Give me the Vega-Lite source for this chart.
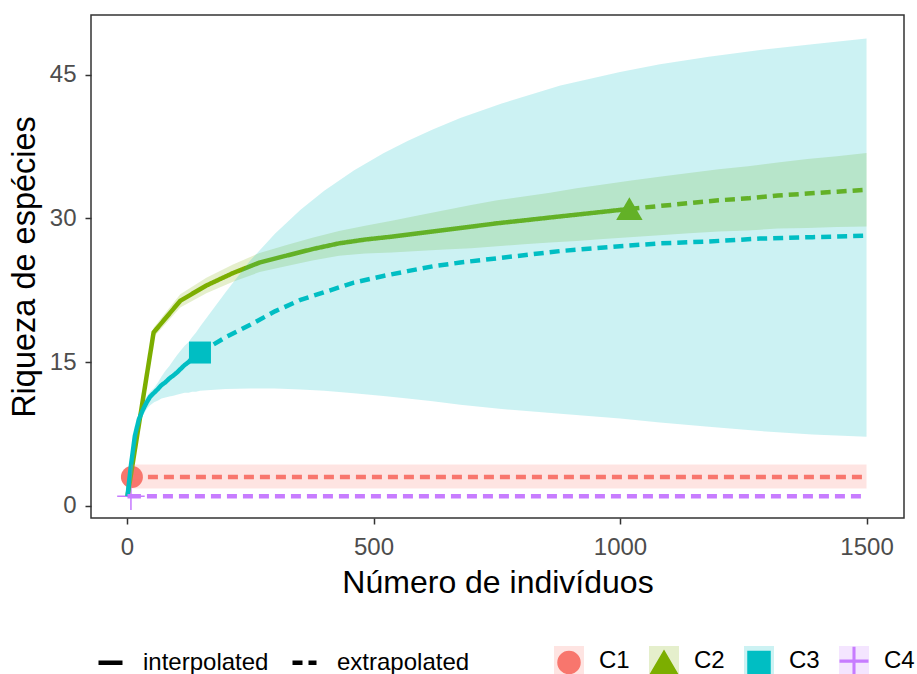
{
  "$schema": "https://vega.github.io/schema/vega-lite/v6.json",
  "width": 813,
  "height": 503,
  "autosize": {"type": "none"},
  "padding": {"left": 91, "top": 15, "right": 13, "bottom": 156},
  "background": "white",
  "config": {
    "font": "Liberation Sans",
    "view": {"stroke": "#333333", "strokeWidth": 1.5},
    "axis": {"grid": false}
  },
  "datasets": {
    "curves": [
      {"site": "C1", "m": 8, "qD": 2.8, "lo": 1.8, "hi": 4.3, "method": "interpolated"},
      {"site": "C1", "m": 10, "qD": 3, "lo": 1.8, "hi": 4.3, "method": "interpolated"},
      {"site": "C1", "m": 10, "qD": 3, "lo": 1.8, "hi": 4.3, "method": "extrapolated"},
      {"site": "C1", "m": 500, "qD": 3, "lo": 1.8, "hi": 4.3, "method": "extrapolated"},
      {"site": "C1", "m": 1000, "qD": 3, "lo": 1.8, "hi": 4.3, "method": "extrapolated"},
      {"site": "C1", "m": 1500, "qD": 3, "lo": 1.8, "hi": 4.3, "method": "extrapolated"},

      {"site": "C2", "m": 1, "qD": 1, "lo": 1, "hi": 1, "method": "interpolated"},
      {"site": "C2", "m": 54, "qD": 18.1, "lo": 17.6, "hi": 18.6, "method": "interpolated"},
      {"site": "C2", "m": 108, "qD": 21.4, "lo": 20.7, "hi": 22.1, "method": "interpolated"},
      {"site": "C2", "m": 161, "qD": 23.0, "lo": 22.2, "hi": 23.8, "method": "interpolated"},
      {"site": "C2", "m": 215, "qD": 24.3, "lo": 23.4, "hi": 25.2, "method": "interpolated"},
      {"site": "C2", "m": 269, "qD": 25.4, "lo": 24.4, "hi": 26.4, "method": "interpolated"},
      {"site": "C2", "m": 322, "qD": 26.1, "lo": 25.0, "hi": 27.2, "method": "interpolated"},
      {"site": "C2", "m": 376, "qD": 26.8, "lo": 25.6, "hi": 28.0, "method": "interpolated"},
      {"site": "C2", "m": 430, "qD": 27.4, "lo": 26.1, "hi": 28.7, "method": "interpolated"},
      {"site": "C2", "m": 483, "qD": 27.8, "lo": 26.35, "hi": 29.25, "method": "interpolated"},
      {"site": "C2", "m": 537, "qD": 28.1, "lo": 26.45, "hi": 29.75, "method": "interpolated"},
      {"site": "C2", "m": 590, "qD": 28.45, "lo": 26.6, "hi": 30.3, "method": "interpolated"},
      {"site": "C2", "m": 644, "qD": 28.8, "lo": 26.75, "hi": 30.85, "method": "interpolated"},
      {"site": "C2", "m": 698, "qD": 29.15, "lo": 26.9, "hi": 31.4, "method": "interpolated"},
      {"site": "C2", "m": 751, "qD": 29.5, "lo": 27.1, "hi": 31.9, "method": "interpolated"},
      {"site": "C2", "m": 805, "qD": 29.8, "lo": 27.3, "hi": 32.3, "method": "interpolated"},
      {"site": "C2", "m": 858, "qD": 30.1, "lo": 27.5, "hi": 32.7, "method": "interpolated"},
      {"site": "C2", "m": 912, "qD": 30.4, "lo": 27.65, "hi": 33.15, "method": "interpolated"},
      {"site": "C2", "m": 966, "qD": 30.7, "lo": 27.85, "hi": 33.55, "method": "interpolated"},
      {"site": "C2", "m": 1019, "qD": 31.0, "lo": 28.05, "hi": 33.95, "method": "interpolated"},
      {"site": "C2", "m": 1019, "qD": 31.0, "lo": 28.05, "hi": 33.95, "method": "extrapolated"},
      {"site": "C2", "m": 1080, "qD": 31.3, "lo": 28.25, "hi": 34.35, "method": "extrapolated"},
      {"site": "C2", "m": 1140, "qD": 31.6, "lo": 28.45, "hi": 34.75, "method": "extrapolated"},
      {"site": "C2", "m": 1200, "qD": 31.9, "lo": 28.65, "hi": 35.15, "method": "extrapolated"},
      {"site": "C2", "m": 1260, "qD": 32.1, "lo": 28.75, "hi": 35.45, "method": "extrapolated"},
      {"site": "C2", "m": 1320, "qD": 32.4, "lo": 28.95, "hi": 35.85, "method": "extrapolated"},
      {"site": "C2", "m": 1380, "qD": 32.6, "lo": 29.0, "hi": 36.2, "method": "extrapolated"},
      {"site": "C2", "m": 1440, "qD": 32.8, "lo": 29.1, "hi": 36.5, "method": "extrapolated"},
      {"site": "C2", "m": 1500, "qD": 33.0, "lo": 29.15, "hi": 36.85, "method": "extrapolated"},

      {"site": "C3", "m": 1, "qD": 1, "lo": 1, "hi": 1, "method": "interpolated"},
      {"site": "C3", "m": 8, "qD": 4.2, "lo": 3.9, "hi": 4.5, "method": "interpolated"},
      {"site": "C3", "m": 16, "qD": 7.3, "lo": 6.8, "hi": 7.8, "method": "interpolated"},
      {"site": "C3", "m": 24, "qD": 9.0, "lo": 8.4, "hi": 9.6, "method": "interpolated"},
      {"site": "C3", "m": 32, "qD": 10.0, "lo": 9.4, "hi": 10.6, "method": "interpolated"},
      {"site": "C3", "m": 40, "qD": 10.8, "lo": 10.1, "hi": 11.4, "method": "interpolated"},
      {"site": "C3", "m": 47, "qD": 11.4, "lo": 10.5, "hi": 11.9, "method": "interpolated"},
      {"site": "C3", "m": 55, "qD": 11.8, "lo": 10.8, "hi": 12.3, "method": "interpolated"},
      {"site": "C3", "m": 63, "qD": 12.2, "lo": 11.0, "hi": 12.9, "method": "interpolated"},
      {"site": "C3", "m": 70, "qD": 12.6, "lo": 11.2, "hi": 13.5, "method": "interpolated"},
      {"site": "C3", "m": 78, "qD": 12.9, "lo": 11.3, "hi": 14.1, "method": "interpolated"},
      {"site": "C3", "m": 86, "qD": 13.3, "lo": 11.4, "hi": 14.6, "method": "interpolated"},
      {"site": "C3", "m": 94, "qD": 13.6, "lo": 11.5, "hi": 15.2, "method": "interpolated"},
      {"site": "C3", "m": 101, "qD": 13.9, "lo": 11.6, "hi": 15.7, "method": "interpolated"},
      {"site": "C3", "m": 109, "qD": 14.3, "lo": 11.7, "hi": 16.2, "method": "interpolated"},
      {"site": "C3", "m": 117, "qD": 14.7, "lo": 11.8, "hi": 16.7, "method": "interpolated"},
      {"site": "C3", "m": 125, "qD": 15.0, "lo": 11.8, "hi": 17.1, "method": "interpolated"},
      {"site": "C3", "m": 132, "qD": 15.4, "lo": 11.9, "hi": 17.6, "method": "interpolated"},
      {"site": "C3", "m": 140, "qD": 15.7, "lo": 11.9, "hi": 18.1, "method": "interpolated"},
      {"site": "C3", "m": 148, "qD": 16.0, "lo": 12.0, "hi": 18.7, "method": "interpolated"},
      {"site": "C3", "m": 148, "qD": 16.0, "lo": 12.0, "hi": 18.7, "method": "extrapolated"},
      {"site": "C3", "m": 200, "qD": 17.6, "lo": 12.2, "hi": 22.3, "method": "extrapolated"},
      {"site": "C3", "m": 250, "qD": 18.9, "lo": 12.25, "hi": 25.6, "method": "extrapolated"},
      {"site": "C3", "m": 300, "qD": 20.3, "lo": 12.25, "hi": 28.4, "method": "extrapolated"},
      {"site": "C3", "m": 352, "qD": 21.5, "lo": 12.15, "hi": 30.9, "method": "extrapolated"},
      {"site": "C3", "m": 400, "qD": 22.3, "lo": 12.0, "hi": 32.9, "method": "extrapolated"},
      {"site": "C3", "m": 460, "qD": 23.3, "lo": 11.75, "hi": 35.0, "method": "extrapolated"},
      {"site": "C3", "m": 520, "qD": 24.0, "lo": 11.45, "hi": 36.8, "method": "extrapolated"},
      {"site": "C3", "m": 569, "qD": 24.5, "lo": 11.2, "hi": 38.1, "method": "extrapolated"},
      {"site": "C3", "m": 620, "qD": 25.0, "lo": 10.9, "hi": 39.3, "method": "extrapolated"},
      {"site": "C3", "m": 676, "qD": 25.4, "lo": 10.55, "hi": 40.5, "method": "extrapolated"},
      {"site": "C3", "m": 760, "qD": 25.9, "lo": 10.1, "hi": 42.0, "method": "extrapolated"},
      {"site": "C3", "m": 879, "qD": 26.6, "lo": 9.6, "hi": 43.9, "method": "extrapolated"},
      {"site": "C3", "m": 1000, "qD": 27.1, "lo": 9.1, "hi": 45.3, "method": "extrapolated"},
      {"site": "C3", "m": 1081, "qD": 27.4, "lo": 8.7, "hi": 46.1, "method": "extrapolated"},
      {"site": "C3", "m": 1180, "qD": 27.6, "lo": 8.25, "hi": 46.9, "method": "extrapolated"},
      {"site": "C3", "m": 1284, "qD": 27.9, "lo": 7.8, "hi": 47.6, "method": "extrapolated"},
      {"site": "C3", "m": 1390, "qD": 28.05, "lo": 7.45, "hi": 48.2, "method": "extrapolated"},
      {"site": "C3", "m": 1500, "qD": 28.2, "lo": 7.2, "hi": 48.8, "method": "extrapolated"},

      {"site": "C4", "m": 1, "qD": 1, "lo": 1, "hi": 1, "method": "interpolated"},
      {"site": "C4", "m": 8, "qD": 1, "lo": 1, "hi": 1, "method": "interpolated"},
      {"site": "C4", "m": 8, "qD": 1, "lo": 1, "hi": 1, "method": "extrapolated"},
      {"site": "C4", "m": 1500, "qD": 1, "lo": 1, "hi": 1, "method": "extrapolated"}
    ],
    "observed": [
      {"site": "C1", "m": 10, "qD": 3},
      {"site": "C2", "m": 1019, "qD": 31},
      {"site": "C3", "m": 148, "qD": 16},
      {"site": "C4", "m": 8, "qD": 1}
    ]
  },
  "encoding": {
    "x": {
      "field": "m", "type": "quantitative",
      "scale": {"domain": [-73, 1576], "nice": false, "zero": false},
      "axis": {
        "values": [0, 500, 1000, 1500], "format": "d", "domain": false,
        "tickColor": "#333333", "tickWidth": 1.5, "tickSize": 6,
        "labelColor": "#4D4D4D", "labelFontSize": 24, "labelBaseline": "alphabetic", "labelPadding": 30,
        "title": "Número de indivíduos", "titleFontSize": 32, "titleFontWeight": "normal", "titleColor": "black",
        "titleBaseline": "alphabetic", "titleX": 406.5, "titleY": 74, "titleAlign": "center"
      }
    },
    "y": {
      "field": "qD", "type": "quantitative",
      "scale": {"domain": [-1.28, 51.25], "nice": false, "zero": false},
      "axis": {
        "values": [0, 15, 30, 45], "domain": false,
        "tickColor": "#333333", "tickWidth": 1.5, "tickSize": 6,
        "labelColor": "#4D4D4D", "labelFontSize": 24, "labelPadding": 9,
        "title": "Riqueza de espécies", "titleFontSize": 32.5, "titleFontWeight": "normal", "titleColor": "black",
        "titleBaseline": "alphabetic", "titleAngle": 270, "titleX": -57, "titleY": 251.5, "titleAlign": "center"
      }
    }
  },
  "layer": [
    {
      "data": {"name": "observed"},
      "mark": {"type": "point", "filled": true, "opacity": 1, "size": 484},
      "encoding": {
        "color": {
          "field": "site", "type": "nominal",
          "scale": {"domain": ["C1", "C2", "C3", "C4"], "range": ["#F8766D", "#7CAE00", "#00BFC4", "#C77CFF"]},
          "legend": {
            "title": null, "orient": "none", "legendX": 466, "legendY": 634, "direction": "horizontal",
            "symbolSize": 484, "symbolOpacity": 1, "labelExpr": "''", "labelFontSize": 24, "labelOffset": 0, "columnPadding": 64, "padding": 0
          }
        },
        "shape": {
          "field": "site", "type": "nominal",
          "scale": {"domain": ["C1", "C2", "C3", "C4"], "range": ["circle", "M0,-1.05L1.2,1L-1.2,1Z", "square", "M-1.25,-0.07H-0.07V-1.25H0.07V-0.07H1.25V0.07H0.07V1.25H-0.07V0.07H-1.25Z"]}
        }
      }
    },
    {
      "data": {"name": "curves"},
      "mark": {"type": "line", "strokeWidth": 4.5, "strokeCap": "butt"},
      "encoding": {
        "stroke": {
          "field": "site", "type": "nominal",
          "scale": {"domain": ["C1", "C2", "C3", "C4"], "range": ["#F8766D", "#7CAE00", "#00BFC4", "#C77CFF"]},
          "legend": null
        },
        "strokeDash": {
          "field": "method", "type": "nominal",
          "scale": {"domain": ["interpolated", "extrapolated"], "range": [[1, 0], [10, 6]]},
          "legend": {
            "title": null, "orient": "none", "legendX": 5, "legendY": 633, "direction": "horizontal",
            "symbolType": "stroke", "symbolSize": 576, "symbolStrokeWidth": 4.5, "symbolStrokeColor": "black",
            "labelFontSize": 24, "labelColor": "black", "labelOffset": 18, "columnPadding": 14, "padding": 0,
            "encode": {"symbols": {"update": {"strokeDash": {"signal": "datum.value === 'extrapolated' ? [11, 4, 4, 4] : [1, 0]"}}}}
          }
        }
      }
    },
    {
      "data": {"name": "curves"},
      "mark": {"type": "area", "opacity": 0.2},
      "encoding": {
        "y": {"field": "lo", "type": "quantitative"},
        "y2": {"field": "hi"},
        "fill": {
          "field": "site", "type": "nominal",
          "scale": {"range": ["#F8766D", "#7CAE00", "#00BFC4", "#C77CFF"]},
          "legend": {
            "title": null, "orient": "none", "legendX": 462, "legendY": 630, "direction": "horizontal",
            "symbolType": "square", "symbolSize": 900, "symbolStrokeWidth": 1.5,
            "labelFontSize": 24, "labelColor": "black", "labelOffset": 14, "columnPadding": 18, "padding": 0,
            "encode": {"symbols": {"update": {"opacity": {"value": 1}, "fillOpacity": {"value": 0.2}, "stroke": {"scale": "fill", "field": "value"}, "strokeOpacity": {"value": 0.55}}}}
          }
        }
      }
    }
  ]
}
